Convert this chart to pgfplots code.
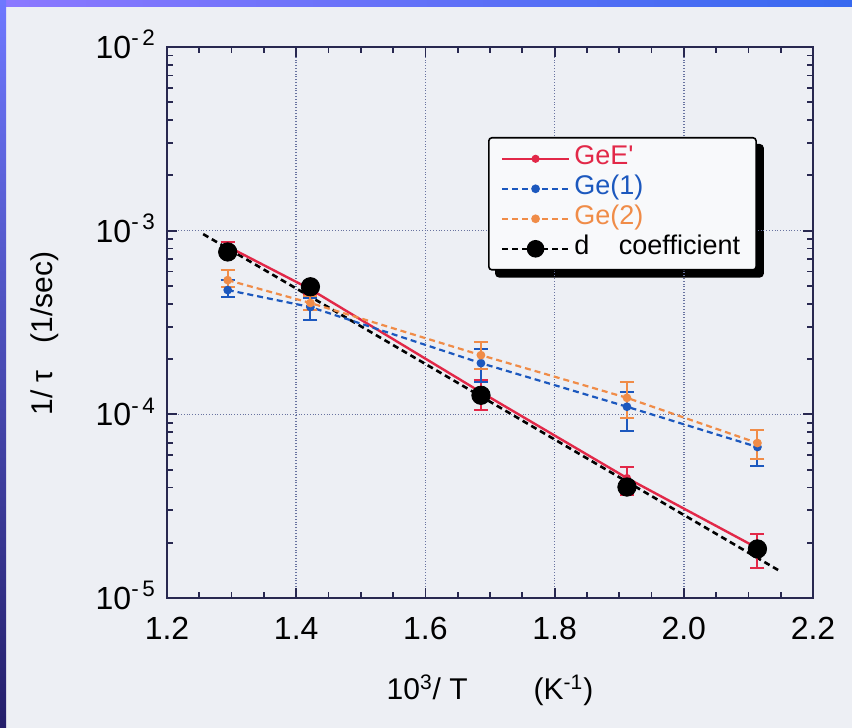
\documentclass[border=0pt]{standalone}
\usepackage{pgfplots}
\pgfplotsset{compat=1.18}
\usepackage{fontspec}
\setmainfont{Liberation Sans}

\pgfdeclarelayer{bg}
\pgfdeclarelayer{shd}
\pgfsetlayers{bg,shd,main}

\definecolor{paper}{RGB}{237,239,244}
\definecolor{geered}{RGB}{226,40,72}
\definecolor{geblue}{RGB}{28,88,190}
\definecolor{georange}{RGB}{240,140,72}
\definecolor{axnavy}{RGB}{40,40,80}
\definecolor{gridc}{RGB}{105,115,160}

\begin{document}
\begin{tikzpicture}[x=1pt,y=1pt]
% slide background
\begin{pgfonlayer}{bg}
\fill[paper] (0,0) rectangle (426,364);
\shade[left color={rgb,255:red,140;green,120;blue,255}, middle color={rgb,255:red,85;green,210;blue,255}, right color={rgb,255:red,55;green,105;blue,240}] (0,360.5) rectangle (426,364);
\shade[top color={rgb,255:red,110;green,120;blue,255}, bottom color={rgb,255:red,36;green,30;blue,106}] (0,0) rectangle (3,364);
\end{pgfonlayer}

\begin{axis}[
  at={(83.5pt,65pt)}, anchor=south west,
  scale only axis, width=323pt, height=275.5pt,
  xmin=1.2, xmax=2.2,
  ymode=log, ymin=1e-5, ymax=1e-2,
  xtick={1.2,1.4,1.6,1.8,2.0,2.2},
  xticklabels={1.2,1.4,1.6,1.8,2.0,2.2},
  minor x tick num=3,
  ytick={1e-5,1e-4,1e-3,1e-2},
  yticklabels={10\textsuperscript{-\,5},10\textsuperscript{-\,4},10\textsuperscript{-\,3},10\textsuperscript{-\,2}},
  tick align=inside,
  major tick length=5pt, minor tick length=3pt,
  grid=major,
  major grid style={gridc, densely dotted, line width=0.8pt},
  axis line style={axnavy, line width=1.2pt},
  every tick/.style={axnavy, line width=0.9pt},
  tick label style={font=\fontsize{16}{18}\selectfont},
  xticklabel style={yshift=-6pt},
  yticklabel style={anchor=base east, yshift=-5.7pt, xshift=-2pt},
  xlabel={10\textsuperscript{3}/ T\hspace{2.2em}(K\textsuperscript{-1})},
  ylabel={1/ τ\hspace{0.9em}(1/sec)},
  every axis x label/.style={at={(axis description cs:0.5,-0.167)}, anchor=center, font=\fontsize{15}{17}\selectfont},
  every axis y label/.style={at={(axis description cs:-0.189,0.48)}, rotate=90, anchor=center, font=\fontsize{15}{17}\selectfont},
  legend style={name=leg, at={(0.497,0.8367)}, anchor=north west, draw=black, line width=0.8pt,
    fill=white!60!paper, rounded corners=1.5pt,
    font=\fontsize{13.5}{15}\selectfont, row sep=0pt, inner xsep=6pt, inner ysep=3pt,
    nodes={text height=8.6pt, text depth=2.4pt}},
  legend cell align=left,
  legend image code/.code={\draw[mark repeat=2,mark phase=2] plot coordinates {(0pt,0pt)(16.75pt,0pt)(33.5pt,0pt)};},
]

% fit line of the d coefficient
\addplot[black, densely dashed, line width=1.3pt, forget plot]
  coordinates {(1.256,9.58e-4) (2.146,1.42e-5)};

\addplot[geered, line width=1.2pt, mark=*, mark size=1.4pt,
  error bars/.cd, y dir=both, y explicit,
  error bar style={line width=1pt}, error mark options={rotate=90, line width=1pt, mark size=3.5pt}]
  coordinates {
    (1.294,8.2e-4) += (0,0.5e-4) -= (0,0.5e-4)
    (1.422,4.8e-4) += (0,0.3e-4) -= (0,0.3e-4)
    (1.686,1.32e-4) += (0,0.22e-4) -= (0,0.27e-4)
    (1.912,4.5e-5) += (0,0.67e-5) -= (0,0.86e-5)
    (2.114,1.87e-5) += (0,0.36e-5) -= (0,0.41e-5)
  };
\addlegendentry{\textcolor{geered}{GeE\textquotesingle}}

\addplot[geblue, densely dashed, line width=1.1pt, mark=*, mark size=1.6pt, mark options={solid},
  error bars/.cd, y dir=both, y explicit,
  error bar style={line width=1pt, solid}, error mark options={rotate=90, line width=1pt, mark size=3.5pt, solid}]
  coordinates {
    (1.294,4.75e-4) += (0,0.63e-4) -= (0,0.40e-4)
    (1.422,3.84e-4) += (0,0.45e-4) -= (0,0.58e-4)
    (1.686,1.90e-4) += (0,0.37e-4) -= (0,0.40e-4)
    (1.912,1.10e-4) += (0,0.22e-4) -= (0,0.29e-4)
    (2.114,6.64e-5) += (0,1.56e-5) -= (0,1.41e-5)
  };
\addlegendentry{\textcolor{geblue}{Ge(1)}}

\addplot[georange, densely dashed, line width=1.1pt, mark=*, mark size=1.6pt, mark options={solid},
  error bars/.cd, y dir=both, y explicit,
  error bar style={line width=1pt, solid}, error mark options={rotate=90, line width=1pt, mark size=3.5pt, solid}]
  coordinates {
    (1.294,5.38e-4) += (0,0.72e-4) -= (0,0.45e-4)
    (1.422,4.04e-4) += (0,0.35e-4) -= (0,0.35e-4)
    (1.686,2.10e-4) += (0,0.38e-4) -= (0,0.33e-4)
    (1.912,1.23e-4) += (0,0.27e-4) -= (0,0.275e-4)
    (2.114,6.98e-5) += (0,1.22e-5) -= (0,1.28e-5)
  };
\addlegendentry{\textcolor{georange}{Ge(2)}}

\addplot[black, only marks, mark=*, mark size=4.6pt,
  legend image code/.code={\draw[black, densely dashed, line width=1.2pt] (0pt,0pt) -- (33.5pt,0pt); \fill[black] (16.75pt,0pt) circle (4pt);}]
  coordinates {
    (1.294,7.66e-4)
    (1.422,4.95e-4)
    (1.686,1.27e-4)
    (1.912,4.02e-5)
    (2.114,1.85e-5)
  };
\addlegendentry{d\hspace{1.1em}coefficient}

\end{axis}

% legend shadow
\begin{pgfonlayer}{shd}
\fill[black, rounded corners=2pt] ([shift={(3.5pt,-3.5pt)}]leg.south west) rectangle ([shift={(3.5pt,-3.5pt)}]leg.north east);
\end{pgfonlayer}
\end{tikzpicture}
\end{document}
